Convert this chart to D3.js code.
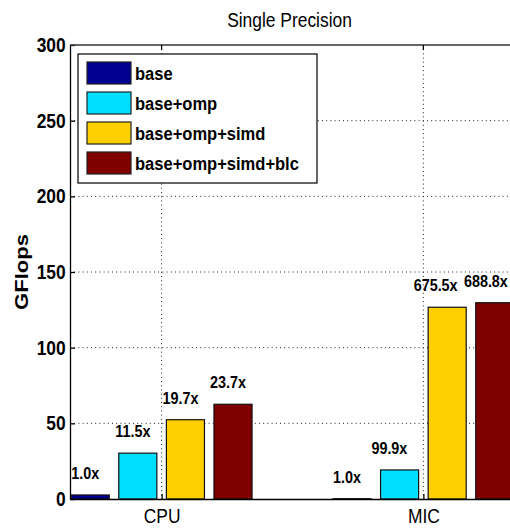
<!DOCTYPE html>
<html>
<head>
<meta charset="utf-8">
<script src="https://cdn.jsdelivr.net/npm/d3@7"></script>
<style>
  body { margin: 0; background: #fff; }
  text { font-family: "Liberation Sans", Arial, sans-serif; fill: #000; }
</style>
</head>
<body>
<svg id="chart" width="510" height="529"></svg>
<script>

// data
let groups = ["CPU", "MIC"];
let series = ["base", "base+omp", "base+omp+simd", "base+omp+simd+blc"];
let cpuValues = [2.65, 30.3, 52.4, 62.6];
let micValues = [0.19, 19.2, 126.7, 129.7];
let cpuLabels = ["1.0x", "11.5x", "19.7x", "23.7x"];
let micLabels = ["1.0x", "99.9x", "675.5x", "688.8x"];
let yTicks = [0, 50, 100, 150, 200, 250, 300];
let colors = ["#00008f", "#00dfff", "#ffcf00", "#800000"];

let values = [cpuValues, micValues];
let labels = [cpuLabels, micLabels];

let svg = d3.select("svg#chart");
let width = +svg.attr("width");
let margin = { "top": 45, "left": 70 };
let plotRight = 515;
let plotBottom = 499;
let sx = 0.87; // the original fonts look squeezed sideways

let xScale = d3.scaleLinear().domain([0.65, 2.35]).range([margin.left, plotRight]);
let yScale = d3.scaleLinear().domain([0, 300]).range([plotBottom, margin.top]);

// matlab style grouped bars
let spacing = (4 / 5.5) / 4;
let barW = spacing * 0.8;

function txt(x, y, s, size, weight, anchor, rot) {
  return svg.append("text")
    .attr("transform", "translate(" + x + "," + y + ") scale(" + sx + ",1)" + (rot ? " rotate(" + rot + ")" : ""))
    .attr("text-anchor", anchor)
    .style("font-size", size + "px")
    .style("font-weight", weight)
    .text(s);
}

// grid
let grid = svg.append("g").attr("stroke", "#222").attr("stroke-dasharray", "1,3.2").attr("stroke-width", 1);
yTicks.slice(1, -1).forEach(function(t) {
  grid.append("line")
    .attr("x1", margin.left).attr("x2", plotRight)
    .attr("y1", yScale(t)).attr("y2", yScale(t));
});
groups.forEach(function(g, i) {
  grid.append("line")
    .attr("x1", xScale(i + 1)).attr("x2", xScale(i + 1))
    .attr("y1", margin.top).attr("y2", plotBottom);
});

// bars
for (let gi = 0; gi < groups.length; gi++) {
  let placed = [];
  for (let si = 0; si < series.length; si++) {
    let c = gi + 1 + (si - 1.5) * spacing;
    let v = values[gi][si];
    svg.append("rect")
      .attr("x", xScale(c - barW / 2))
      .attr("y", yScale(v))
      .attr("width", xScale(c + barW / 2) - xScale(c - barW / 2))
      .attr("height", yScale(0) - yScale(v))
      .attr("fill", colors[si])
      .attr("stroke", "#111")
      .attr("stroke-width", 1.2);

    let t = txt(0, 0, labels[gi][si], 16.5, "bold", "middle");
    let half = t.node().getBBox().width * sx / 2;
    placed.push({ "t": t, "x": xScale(c) - 5, "y": yScale(v) - 16, "half": half });
  }
  // keep labels inside the window and apart from each other (right to left)
  for (let k = placed.length - 1; k >= 0; k--) {
    let p = placed[k];
    if (p.x + p.half > width - 2) p.x = width - 2 - p.half;
    if (k < placed.length - 1) {
      let n = placed[k + 1];
      if (p.x + p.half > n.x - n.half - 6) p.x = n.x - n.half - 6 - p.half;
    }
    p.t.attr("transform", "translate(" + p.x + "," + p.y + ") scale(" + sx + ",1)");
  }
}

// axes
let yAxis = d3.axisLeft(yScale).tickValues(yTicks).tickSize(-5).tickSizeOuter(0).tickPadding(5);
let gy = svg.append("g").attr("transform", "translate(" + margin.left + ",0)").call(yAxis);
gy.selectAll("text")
  .attr("transform", "scale(" + sx + ",1)")
  .style("font-size", "20px").style("font-weight", "bold");

let xAxis = d3.axisBottom(xScale).tickValues([1, 2]).tickFormat(function(d) { return groups[d - 1]; })
  .tickSize(-5).tickSizeOuter(0).tickPadding(10);
let gx = svg.append("g").attr("transform", "translate(0," + plotBottom + ")").call(xAxis);
gx.selectAll("text")
  .attr("transform", "scale(" + sx + ",1)")
  .style("font-size", "20px").style("font-weight", "normal");

svg.selectAll(".domain").attr("stroke", "#000").attr("stroke-width", 1.3);
svg.selectAll(".tick line").attr("stroke", "#000").attr("stroke-width", 1.3);

// box top + right
svg.append("line").attr("x1", margin.left).attr("x2", plotRight)
  .attr("y1", margin.top).attr("y2", margin.top).attr("stroke", "#333").attr("stroke-width", 1.3);
svg.append("line").attr("x1", plotRight).attr("x2", plotRight)
  .attr("y1", margin.top).attr("y2", plotBottom).attr("stroke", "#333").attr("stroke-width", 1.3);
[1, 2].forEach(function(t) {
  svg.append("line").attr("x1", xScale(t)).attr("x2", xScale(t))
    .attr("y1", margin.top).attr("y2", margin.top + 5).attr("stroke", "#000").attr("stroke-width", 1.3);
});

// title and y label
txt((margin.left + plotRight) / 2 - 3, 27, "Single Precision", 20, "normal", "middle");
txt(28, (margin.top + plotBottom) / 2, "GFlops", 22, "bold", "middle", -90);

// legend
let legend = svg.append("g");
legend.append("rect")
  .attr("x", 78).attr("y", 54).attr("width", 239).attr("height", 129)
  .attr("fill", "#fff").attr("stroke", "#000").attr("stroke-width", 1.2);
series.forEach(function(s, i) {
  let top = 62 + i * 30;
  legend.append("rect")
    .attr("x", 87).attr("y", top).attr("width", 44).attr("height", 22)
    .attr("fill", colors[i]).attr("stroke", "#222").attr("stroke-width", 1.2);
  txt(135, top + 18, s, 19, "bold", "start");
});

</script>
</body>
</html>
